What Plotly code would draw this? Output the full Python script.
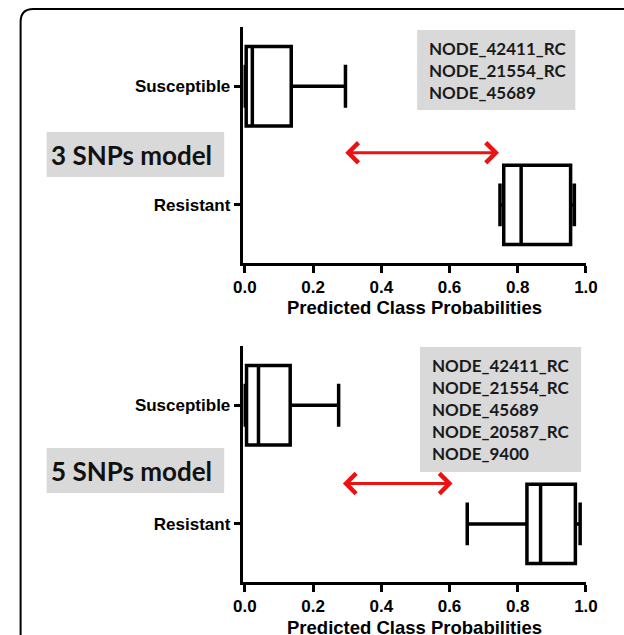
import plotly.graph_objects as go

# ---- data ----
categories = ["Susceptible", "Resistant"]
m3_low = [0.0, 0.748]
m3_q1 = [0.004, 0.759]
m3_med = [0.022, 0.81]
m3_q3 = [0.136, 0.955]
m3_high = [0.295, 0.966]

m5_low = [0.0, 0.652]
m5_q1 = [0.005, 0.827]
m5_med = [0.04, 0.867]
m5_q3 = [0.133, 0.969]
m5_high = [0.275, 0.983]

x_ticks = [0.0, 0.2, 0.4, 0.6, 0.8, 1.0]
x_title = "Predicted Class Probabilities"
model_labels = ["3 SNPs model", "5 SNPs model"]
snp_lists = [
    ["NODE_42411_RC", "NODE_21554_RC", "NODE_45689"],
    ["NODE_42411_RC", "NODE_21554_RC", "NODE_45689", "NODE_20587_RC", "NODE_9400"],
]

W, H = 624, 635


def px(x):
    return x / W


def py(y):
    return 1 - y / H


fig = go.Figure()

box_style = dict(
    orientation="h",
    fillcolor="white",
    line=dict(color="black", width=3.5),
    width=0.67,
    whiskerwidth=0.54,
    boxpoints=False,
    showlegend=False,
    hoverinfo="skip",
)

fig.add_trace(go.Box(y=categories, q1=m3_q1, median=m3_med, q3=m3_q3,
                     lowerfence=m3_low, upperfence=m3_high,
                     xaxis="x", yaxis="y", **box_style))
fig.add_trace(go.Box(y=categories, q1=m5_q1, median=m5_med, q3=m5_q3,
                     lowerfence=m5_low, upperfence=m5_high,
                     xaxis="x2", yaxis="y2", **box_style))

tick_font = dict(family="Arial", size=17, color="black", weight="bold")

xax = dict(
    range=[-0.004, 1.0], tickvals=x_ticks, tickformat=".1f",
    showline=True, linecolor="black", linewidth=2.5,
    ticks="outside", ticklen=7, tickwidth=2.5, tickcolor="black",
    showgrid=False, zeroline=False, tickfont=tick_font, fixedrange=True,
    domain=[px(242), px(597)],
)
yax = dict(
    type="category", categoryorder="array", categoryarray=["Resistant", "Susceptible"],
    range=[-0.49, 1.5],
    showline=True, linecolor="black", linewidth=2.5,
    ticks="outside", ticklen=7, tickwidth=2.5, tickcolor="black",
    showgrid=False, zeroline=False, tickfont=tick_font, fixedrange=True,
)

fig.update_layout(
    width=W, height=H,
    margin=dict(l=0, r=0, t=0, b=0),
    paper_bgcolor="white", plot_bgcolor="white",
    xaxis=dict(xax, anchor="y"),
    yaxis=dict(yax, anchor="x", domain=[py(263), py(27)]),
    xaxis2=dict(xax, anchor="y2"),
    yaxis2=dict(yax, anchor="x2", domain=[py(582), py(346)]),
)

shapes = []
annotations = []

# outer rounded frame (partially off canvas)
def P(x, y):
    return f"{px(x):.5f},{py(y):.5f}"

frame_path = f"M {P(11, 660)} L {P(11, 22)} Q {P(11, 9)} {P(24, 9)} L {P(650, 9)}"
shapes.append(dict(type="path", xref="paper", yref="paper", path=frame_path,
                   line=dict(color="black", width=2)))

# model label boxes
label_boxes = [(38, 132, 222, 177), (38, 448, 222, 493)]
for (x0, y0, x1, y1), lab in zip(label_boxes, model_labels):
    shapes.append(dict(type="rect", xref="paper", yref="paper",
                       x0=px(x0), x1=px(x1), y0=py(y1), y1=py(y0),
                       fillcolor="#d9d9d9", line=dict(width=0), layer="below"))
    annotations.append(dict(xref="paper", yref="paper", x=px(40), y=py((y0 + y1) / 2),
                            xanchor="left", yanchor="middle", showarrow=False,
                            text=lab, font=dict(family="Lato", size=26, color="#111111", weight="bold")))

# SNP list boxes
snp_boxes = [(422, 30, 586, 110), (425, 347, 592, 472)]
for (x0, y0, x1, y1), snps in zip(snp_boxes, snp_lists):
    shapes.append(dict(type="rect", xref="paper", yref="paper",
                       x0=px(x0), x1=px(x1), y0=py(y1), y1=py(y0),
                       fillcolor="#d9d9d9", line=dict(width=0), layer="below"))
    annotations.append(dict(xref="paper", yref="paper", x=px(x0 + 10), y=py((y0 + y1) / 2),
                            xanchor="left", yanchor="middle", align="left", showarrow=False,
                            text="<br>".join(snps),
                            font=dict(family="Lato", size=17, color="#1a1a1a", weight="bold")))

# axis titles
for yy in (308, 627):
    annotations.append(dict(xref="paper", yref="paper", x=px(419.5), y=py(yy),
                            xanchor="center", yanchor="middle", showarrow=False,
                            text=x_title, borderpad=0,
                            font=dict(family="Arial", size=18.5, color="black", weight="bold")))

# red double-headed arrows
arrows = [("x", "y", 0.29, 0.745, 0.44), ("x2", "y2", 0.283, 0.609, 0.34)]
for xr, yr, xs, xe, yv in arrows:
    annotations.append(dict(xref=xr, yref=yr, axref=xr, ayref=yr,
                            x=xe, y=yv, ax=xs, ay=yv, text="",
                            showarrow=True, arrowside="end+start",
                            arrowhead=4, startarrowhead=4,
                            arrowsize=1.3, startarrowsize=1.3,
                            arrowwidth=3, arrowcolor="#ee1111"))

fig.update_layout(shapes=shapes, annotations=annotations)

fig.write_html("out.html")
